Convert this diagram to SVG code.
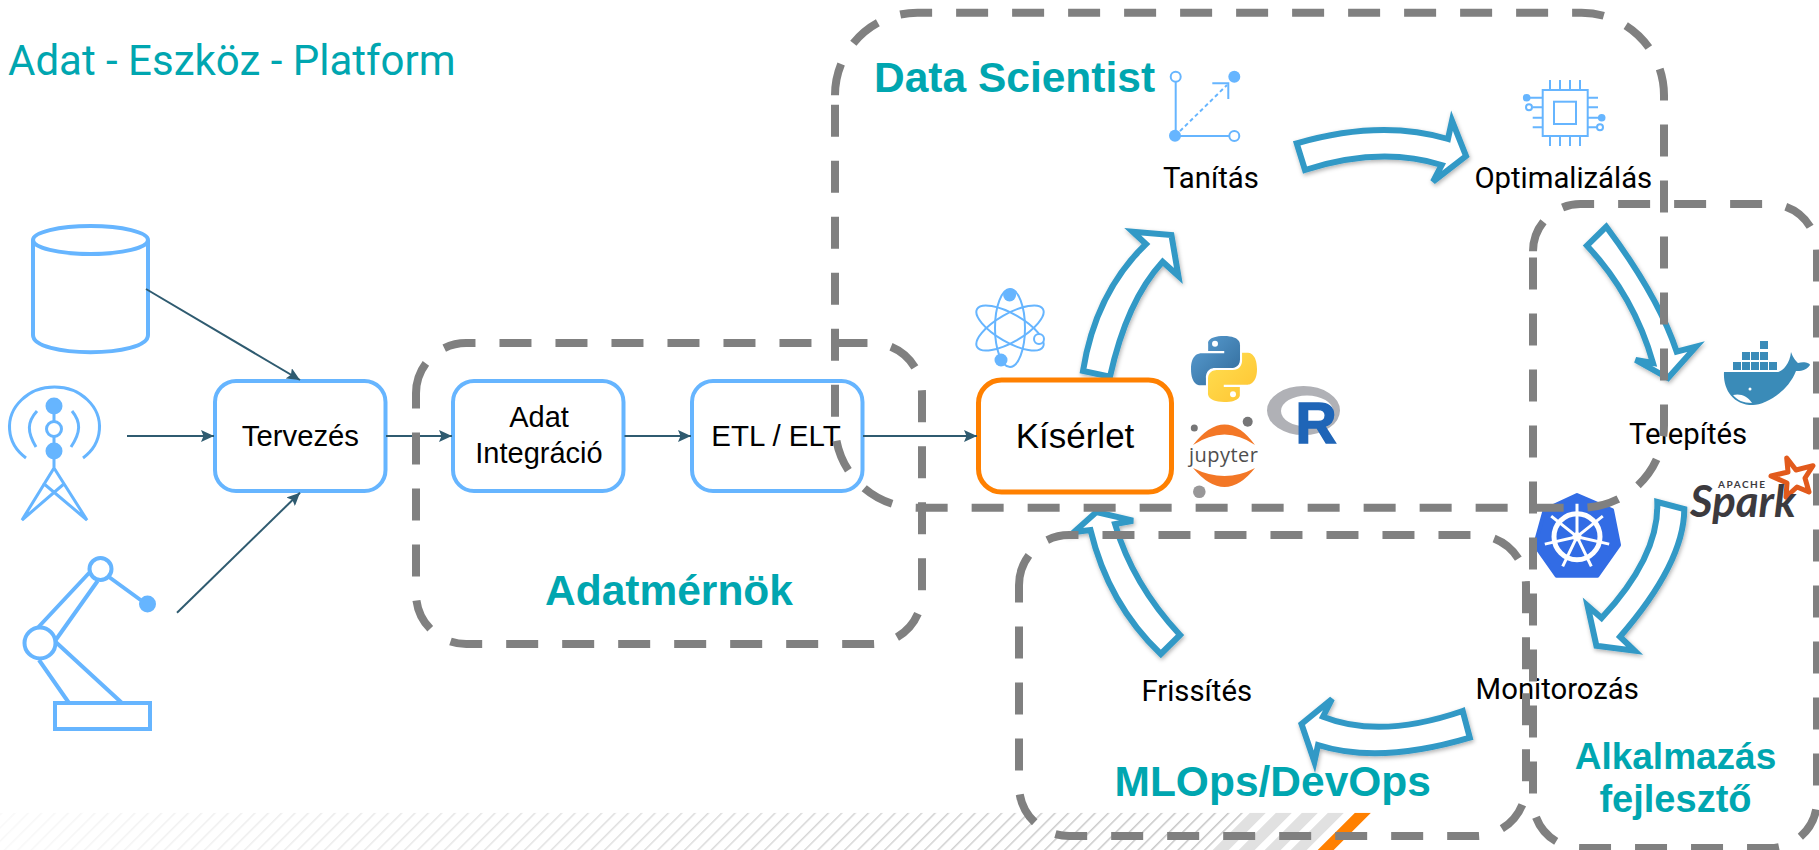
<svg xmlns="http://www.w3.org/2000/svg" width="1819" height="850" viewBox="0 0 1819 850">
<style>
.ic{fill:none;stroke:#66b5ff;stroke-width:4}
.ant{fill:none;stroke:#66b5ff;stroke-width:3}
.ict{fill:none;stroke:#66b5ff;stroke-width:2}
.icf{fill:#66b5ff;stroke:none}
.box{fill:#fff;stroke:#66b5ff;stroke-width:4}
.cn{fill:none;stroke:#2f5b70;stroke-width:2;marker-end:url(#ah)}
.grp{fill:none;stroke:#808080;stroke-width:8;stroke-dasharray:32 24}
.blk{fill:#fff;stroke:#3399c6;stroke-width:6;stroke-linejoin:miter;filter:url(#sh)}
.t{font-family:"Liberation Sans",Arial,sans-serif;fill:#000}
.r{font-family:Roboto,"Liberation Sans",sans-serif;fill:#000;font-size:29.3px}
.h{font-family:"Liberation Sans",Arial,sans-serif;font-weight:700;fill:#00a6b0;font-size:42.5px}
</style>
<defs>
<marker id="ah" markerUnits="userSpaceOnUse" markerWidth="14" markerHeight="12" refX="13" refY="6" orient="auto"><path d="M0 0L13 6L0 12L2.500 6Z" fill="#2f5b70"/></marker>
<filter id="sh" x="-20%" y="-20%" width="140%" height="140%"><feDropShadow dx="1" dy="2" stdDeviation="2" flood-color="#000" flood-opacity=".3"/></filter>
<linearGradient id="fade" gradientUnits="userSpaceOnUse" x1="0" x2="1240" y1="0" y2="0"><stop offset="0" stop-color="#1c1c1c"/><stop offset="1" stop-color="#fff"/></linearGradient>
<pattern id="hatch" patternUnits="userSpaceOnUse" width="9.430" height="9.430" patternTransform="rotate(45)"><rect width="1.500" height="9.430" fill="#c4c4c4"/></pattern>
<mask id="fademask" maskUnits="userSpaceOnUse" x="0" y="812" width="1300" height="40"><rect x="0" y="812" width="1300" height="40" fill="url(#fade)"/></mask>
<linearGradient id="py1" x1="0" y1="0" x2="1" y2="1"><stop offset="0" stop-color="#5a9fd4"/><stop offset="1" stop-color="#306998"/></linearGradient>
<linearGradient id="py2" x1="0" y1="0" x2="1" y2="1"><stop offset="0" stop-color="#ffe052"/><stop offset="1" stop-color="#ffc331"/></linearGradient>
<clipPath id="stripeclip"><rect x="0" y="812.700" width="1819" height="38"/></clipPath>
</defs>
<rect width="1819" height="850" fill="#fff"/>
<g id="background-stripes" clip-path="url(#stripeclip)">
<path d="M0 812.700H1250L1212 850.700H0Z" fill="url(#hatch)" mask="url(#fademask)"/>
<g fill="#e1e1e1"><path d="M1250 812.700h16l-38 38h-16z"/><path d="M1276 812.700h16l-38 38h-16z"/><path d="M1302 812.700h16l-38 38h-16z"/><path d="M1328 812.700h16l-38 38h-16z"/></g>
<path d="M1355 812.700h16l-38 38h-16z" fill="#ff8000"/>
</g>
<text x="8" y="75" font-family="Roboto,sans-serif" font-weight="400" font-size="42" fill="#00a6b0">Adat - Eszköz - Platform</text>
<g id="database"><path class="ic" d="M33 240V335C33 358 148 358 148 335V240"/><ellipse class="ic" cx="90.500" cy="240" rx="57.500" ry="14"/></g>
<g id="antenna"><path class="ant" d="M26 458A45 40 0 1 1 83 458"/><path class="ant" d="M36 447C27 432 27 422 37 411M71 447C81 432 81 422 72 411"/><circle class="ant" cx="54" cy="429" r="7.500"/><path class="ant" d="M54 412V422M54 436V445M54 458V468L22 520L65 483M54 468L87 520L43 483"/>
<circle class="icf" cx="54" cy="406" r="8.500"/><circle class="icf" cx="54" cy="451" r="8.500"/></g>
<g id="robot"><circle class="ic" cx="100.500" cy="569" r="11"/><circle class="icf" cx="147.500" cy="604" r="8.500"/><circle class="ic" cx="40" cy="643" r="15.500"/><rect class="ic" x="55" y="703" width="95" height="26"/>
<path class="ic" d="M38.500 627L89 573M55.700 640L97.600 581M109 577L140.600 600M55.700 642L122 703M39 660L69 703"/></g>
<g id="tervezes"><rect class="box" x="215" y="381" width="170.500" height="110" rx="21"/><text class="t" x="300.400" y="445.700" text-anchor="middle" font-size="29.300">Tervezés</text></g>
<g id="adat-integracio"><rect class="box" x="453" y="381" width="170.500" height="110" rx="21"/><text class="t" x="539" y="427" text-anchor="middle" font-size="29">Adat</text><text class="t" x="539" y="463" text-anchor="middle" font-size="29">Integráció</text></g>
<g id="etl"><rect class="box" x="692" y="381" width="170.500" height="110" rx="21"/><text class="t" x="776" y="445.700" text-anchor="middle" font-size="29.500">ETL / ELT</text></g>
<g id="block-arrows">
<path class="blk" d="M1296.700 143.300Q1381 119 1448 139L1452 120.700L1466 156L1433 181.700L1441.700 165Q1380 146 1305 170Z"/>
<path class="blk" d="M1083 371Q1095.500 292.500 1146 244L1132.700 231.700L1171.400 235L1178.400 276L1162.600 261.700Q1126.700 300.800 1110 376.700Z"/>
<path class="blk" d="M1606.300 226.700L1587 245.700Q1634 296 1653 363L1635.600 360L1668 378L1696 346.700L1676.700 351.700Q1658.500 296.800 1606.300 226.700Z"/>
<path class="blk" d="M1657.300 502L1684.300 509Q1684 563 1620 636.700L1634.500 650.700L1596.400 645.700L1587.600 605.700L1601.600 618Q1659.300 556 1657.300 502Z"/>
<path class="blk" d="M1462.700 711L1469.800 737.700Q1379 764.600 1318 745L1314.400 761.700L1301.500 724L1332 699L1323 716.700Q1380 739.500 1462.700 711Z"/>
<path class="blk" d="M1180 635L1160.800 654Q1108.300 604 1090.500 530L1074 532L1096.400 512L1133 520.700L1115 524Q1132.500 584 1180 635Z"/>
</g>
<g id="kiserlet"><rect x="978.500" y="380" width="193" height="112" rx="23" fill="#fff" stroke="#ff8000" stroke-width="5"/><text class="t" x="1075" y="447.700" text-anchor="middle" font-size="35">Kísérlet</text></g>
<g id="connectors">
<path class="cn" d="M146 289L300 380"/>
<path class="cn" d="M127 436H214"/>
<path class="cn" d="M177 612.700L300 492.700"/>
<path class="cn" d="M386 436H452"/>
<path class="cn" d="M624.500 436H691"/>
<path class="cn" d="M863 436H977"/>
</g>
<g id="tanitas"><g class="ict"><circle cx="1175.700" cy="76.700" r="5"/><circle cx="1234.300" cy="136" r="5"/><path d="M1175.700 82V131M1175 136H1229M1212.300 83.300H1228.300V99"/><path d="M1175 136L1227 85" stroke-dasharray="4 3"/></g><circle class="icf" cx="1234.300" cy="76.700" r="6"/><circle class="icf" cx="1175" cy="135.700" r="6"/><text class="r" x="1163" y="188">Tanítás</text></g>
<g id="optimalizalas"><g class="ict"><rect x="1542.700" y="90" width="45" height="46"/><rect x="1554" y="101.700" width="22" height="22.300"/><path d="M1550 80V90M1560 80V90M1570 80V90M1580 80V90M1550 136V146M1560 136V146M1570 136V146M1580 136V146M1527 97.700H1542.700M1533 107.300H1542.700M1532.700 117.700H1542.700M1532.700 127.300H1542.700M1587.700 97.700H1598M1587.700 107.300H1598M1587.700 117.700H1600M1587.700 127.300H1598"/><circle cx="1529" cy="107.300" r="3"/><circle cx="1600" cy="127.300" r="3"/></g><circle class="icf" cx="1526.700" cy="97.700" r="3.800"/><circle class="icf" cx="1601.700" cy="117.700" r="3.800"/><text class="r" x="1474.400" y="188">Optimalizálás</text></g>
<g id="atom"><g class="ict"><ellipse cx="1010" cy="328" rx="15" ry="39"/><ellipse cx="1010" cy="328" rx="38" ry="14" transform="rotate(30 1010 328)"/><ellipse cx="1010" cy="328" rx="38" ry="14" transform="rotate(-30 1010 328)"/><circle cx="1039" cy="339" r="5" fill="#fff"/></g><circle class="icf" cx="1009.600" cy="295" r="6.500"/><circle class="icf" cx="1001" cy="360" r="6.500"/></g>
<g id="python-logo" transform="translate(1191 336) scale(.6)"><path fill="url(#py1)" d="M54.900 0C26.800 0 28.600 12.200 28.600 12.200V24.800H55.400V28.600H17.900S0 26.600 0 54.900S15.600 82.200 15.600 82.200H24.900V69S24.400 53.400 40.300 53.400H66.800S81.700 53.600 81.700 39V14.900S84 0 54.900 0Z"/><circle cx="40" cy="13" r="5" fill="#fff"/><path fill="url(#py2)" d="M55.100 110C83.200 110 81.400 97.800 81.400 97.800V85.200H54.600V81.400H92.100S110 83.400 110 55.100S94.400 27.800 94.400 27.800H85.100V41S85.600 56.600 69.700 56.600H43.200S28.300 56.400 28.300 71V95.100S26 110 55.100 110Z"/><circle cx="70" cy="97" r="5" fill="#fff"/></g>
<g id="r-logo"><path fill-rule="evenodd" fill="#b0b1b6" d="M1267 410.500A36.500 24.500 0 1 1 1340 410.500A36.500 24.500 0 1 1 1267 410.500ZM1281 411A26 15.500 0 1 0 1333 411A26 15.500 0 1 0 1281 411Z"/><text x="1295.500" y="442.700" font-family="Liberation Sans,sans-serif" font-weight="700" font-size="57" fill="#1f65b7" stroke="#1f65b7" stroke-width="1.500">R</text></g>
<g id="jupyter-logo"><path d="M1193 445Q1225 404 1255 445Q1225 424 1193 445Z" fill="#f37726"/><path d="M1193 468Q1225 506 1255 468Q1225 484 1193 468Z" fill="#f37726"/><circle cx="1247.700" cy="421.700" r="5" fill="#767677"/><circle cx="1194.300" cy="428" r="3.500" fill="#767677"/><circle cx="1199.300" cy="491.700" r="6.300" fill="#989798"/><text x="1189" y="462" font-family="Open Sans,sans-serif" font-size="20" textLength="69" fill="#4e4e4e">jupyter</text></g>
<g id="telepites"><g id="docker-logo" fill="#3a8bb8"><path d="M1724 372H1778C1783 371 1790 363 1791 352C1793 358 1796 361 1798 363C1804 361 1810 363 1810 365C1806 371 1800 371 1796 371C1788 392 1765 405 1753 405C1732 405 1723 388 1724 372Z"/><path d="M1733 362h8v8h-8zM1742 362h8v8h-8zM1751 362h8v8h-8zM1760 362h8v8h-8zM1769 362h8v8h-8zM1742 352h8v8h-8zM1751 352h8v8h-8zM1760 352h8v8h-8zM1760 341h8v8h-8z"/><path d="M1733 395C1740 393 1748 396 1752 403C1743 403 1737 400 1733 395Z" fill="#fff"/><circle cx="1750" cy="389" r="1.500" fill="#fff"/></g><text class="r" x="1629" y="444">Telepítés</text></g>
<g id="spark-logo"><path d="M1786.700 458L1796 470L1813 465.700L1805 478L1809 492L1797 487L1786 497L1787 483L1771 476L1788 472Z" fill="none" stroke="#e25a1c" stroke-width="5" stroke-linejoin="round"/><text x="1718" y="488" font-family="Lato,sans-serif" font-size="10" font-weight="700" textLength="47" fill="#3c3a3e">APACHE</text><text x="1690" y="516.700" font-family="Lato,sans-serif" font-size="44" font-weight="700" font-style="italic" textLength="106" lengthAdjust="spacingAndGlyphs" fill="#3c3a3e">Spark</text></g>
<g id="kubernetes-logo"><path d="M1577 495L1612 510L1619 545L1597.500 575.700H1556.500L1535 545L1544.700 510Z" fill="#326ce5" stroke="#326ce5" stroke-width="4" stroke-linejoin="round"/><circle cx="1577" cy="536.700" r="23" fill="none" stroke="#fff" stroke-width="5"/><circle cx="1577" cy="536.700" r="4.500" fill="#fff"/><path d="M1577 536.700V503.700M1577 536.700L1602.800 516.100M1577 536.700L1609.200 544.100M1577 536.700L1591.300 566.400M1577 536.700L1562.700 566.400M1577 536.700L1544.800 544.100M1577 536.700L1551.200 516.100" stroke="#fff" stroke-width="3" fill="none"/></g>
<g id="monitorozas"><text class="r" x="1475.600" y="699">Monitorozás</text></g>
<g id="frissites"><text class="r" x="1141.500" y="701">Frissítés</text></g>
<g id="groups">
<g id="data-scientist"><path class="grp" d="M835 95.200A82.500 82.500 0 0 1 917.500 12.700H1581.500A82.500 82.500 0 0 1 1664 95.200V425.200A82.500 82.500 0 0 1 1581.500 507.700H917.500A82.500 82.500 0 0 1 835 425.200Z"/><text class="h" x="874" y="91.700">Data Scientist</text></g>
<g id="adatmernok"><path class="grp" d="M416 393.200A50.200 50.200 0 0 1 466.200 343H871.800A50.200 50.200 0 0 1 922 393.200V593.800A50.200 50.200 0 0 1 871.800 644H466.200A50.200 50.200 0 0 1 416 593.800Z"/><text class="h" x="545" y="605">Adatmérnök</text></g>
<g id="mlops"><path class="grp" d="M1019 585.200A50.200 50.200 0 0 1 1069.200 535H1475.800A50.200 50.200 0 0 1 1526 585.200V785.800A50.200 50.200 0 0 1 1475.800 836H1069.200A50.200 50.200 0 0 1 1019 785.800Z"/><text class="h" x="1114.500" y="796">MLOps/DevOps</text></g>
<g id="alkalmazas"><path class="grp" d="M1533 251.300A47.300 47.300 0 0 1 1580.300 204H1769.700A47.300 47.300 0 0 1 1817 251.300V800.700A47.300 47.300 0 0 1 1769.700 848H1580.300A47.300 47.300 0 0 1 1533 800.700Z"/><text class="h" x="1675.500" y="769" text-anchor="middle" style="font-size:37px">Alkalmazás</text><text class="h" x="1675.500" y="811.700" text-anchor="middle" style="font-size:38px">fejlesztő</text></g>
</g>
</svg>
